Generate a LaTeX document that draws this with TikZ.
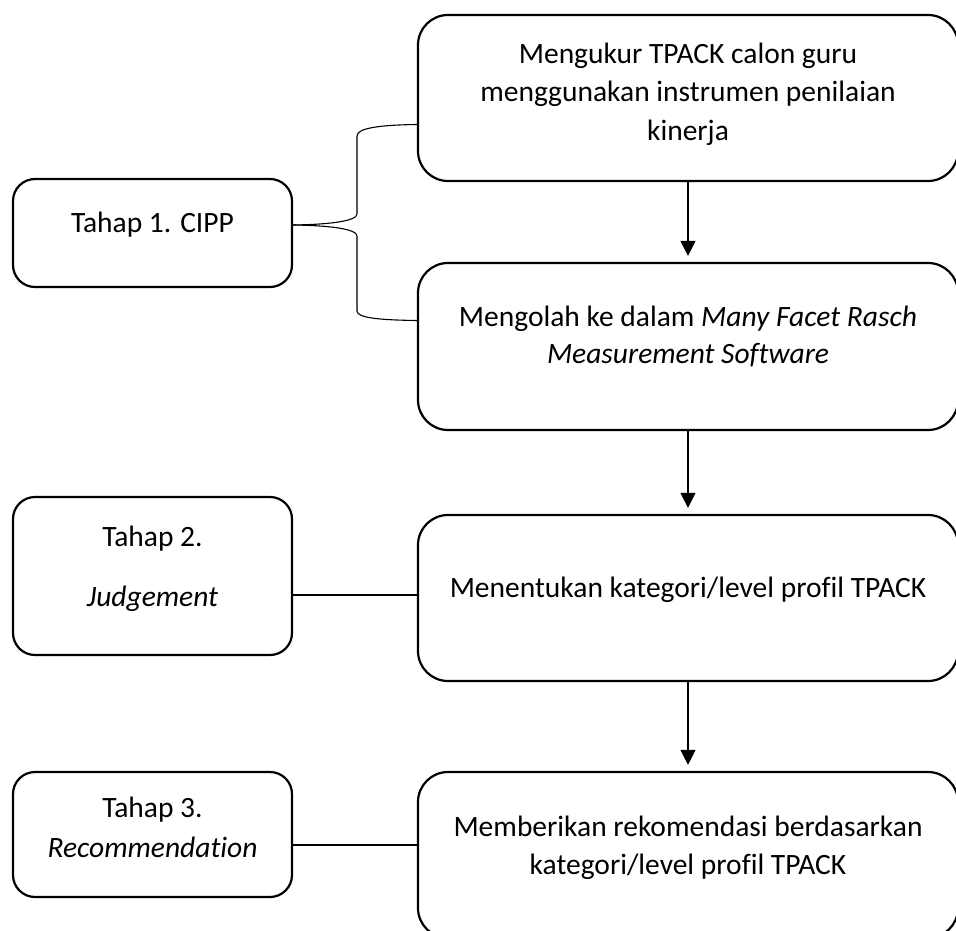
\documentclass[tikz,border=0pt]{standalone}
\usepackage{fontspec}
\setmainfont{Carlito}[Ligatures=NoCommon]
\usetikzlibrary{arrows.meta}
\tikzset{
  x=1pt, y=-1pt,
  bigbox/.style={draw, line width=2.2pt, rounded corners=30pt, minimum width=540pt, inner sep=0pt},
  smallbox/.style={draw, line width=2.2pt, rounded corners=22pt, minimum width=279pt, inner sep=0pt},
  txt/.style={anchor=base, inner sep=0pt, font=\fontsize{29.5}{38}\selectfont},
  conn/.style={line width=1.1pt},
  arr/.style={line width=1.1pt, -{Triangle[width=15pt,length=15pt]}, shorten >=6pt}
}
\begin{document}
\begin{tikzpicture}
\clip (0,0) rectangle (956,931);
\fill[white] (0,0) rectangle (956,931);
% right column boxes
\node[bigbox, minimum height=166pt] (B1) at (688,98) {};
\node[bigbox, minimum height=167pt] (B2) at (688,346.5) {};
\node[bigbox, minimum height=166pt] (B3) at (688,598) {};
\node[bigbox, minimum height=166pt] (B4) at (688,855) {};
% left column boxes
\node[smallbox, minimum height=108pt] (T1) at (152.5,233) {};
\node[smallbox, minimum height=158pt] (T2) at (152.5,576) {};
\node[smallbox, minimum height=125pt] (T3) at (152.5,834.5) {};
% texts
\node[txt] (b1a) at (688,64) {Mengukur TPACK calon guru};
\node[txt] (b1b) at (688,102) {menggunakan instrumen penilaian};
\node[txt] (b1c) at (688,141) {kinerja};
\node[txt] (b2a) at (688,326) {Mengolah ke dalam \textit{Many Facet Rasch}};
\node[txt] (b2b) at (688,363) {\textit{Measurement Software}};
\node[txt] (b3a) at (688,597) {Menentukan kategori/level profil TPACK};
\node[txt] (b4a) at (688,836) {Memberikan rekomendasi berdasarkan};
\node[txt] (b4b) at (688,874) {kategori/level profil TPACK};
\node[txt] (t1a) at (152.5,232) {Tahap 1. CIPP};
\node[txt] (t2a) at (152.5,546) {Tahap 2.};
\node[txt] (t2b) at (152.5,606) {\textit{Judgement}};
\node[txt] (t3a) at (152.5,817) {Tahap 3.};
\node[txt] (t3b) at (152.5,857) {\textit{Recommendation}};
% arrows
\draw[arr] (B1.south) -- (B2.north);
\draw[arr] (B2.south) -- (B3.north);
\draw[arr] (B3.south) -- (B4.north);
% side connectors
\draw[conn] (T2.east |- 0,595) -- (B3.west |- 0,595);
\draw[conn] (T3.east |- 0,845) -- (B4.west |- 0,845);
% brace
\coordinate (tip) at (T1.east |- 0,225);
\draw[conn] (tip) .. controls (330,224.5) and (357,221) .. (357,214)
  -- (357,136) .. controls (357,128) and (380,125) .. (B1.west |- 0,124.5);
\draw[conn] (tip) .. controls (330,225.5) and (357,229) .. (357,236)
  -- (357,311) .. controls (357,318) and (380,320) .. (B2.west |- 0,320.5);
\end{tikzpicture}
\end{document}
